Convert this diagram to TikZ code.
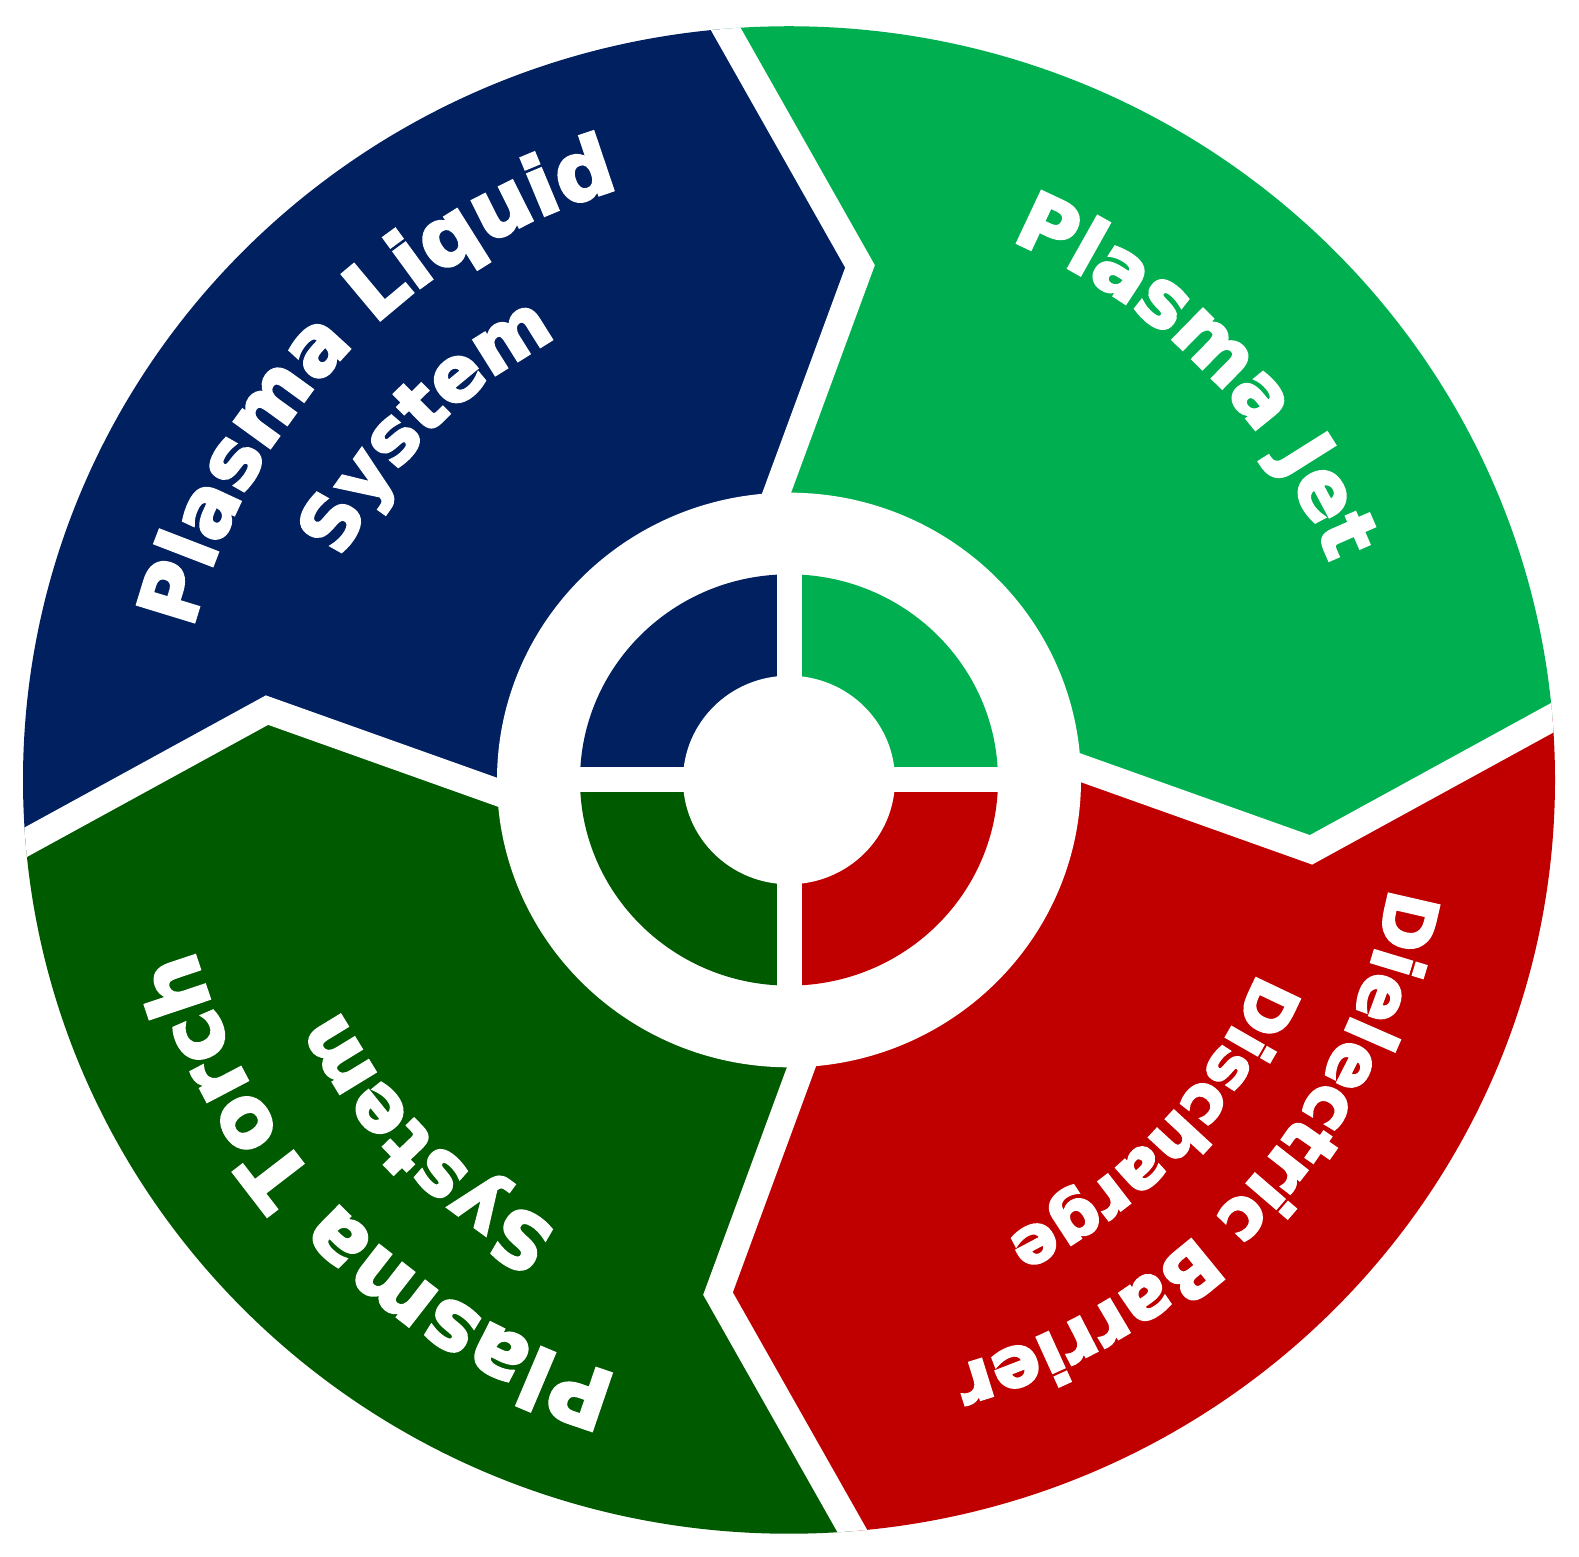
\documentclass[tikz,border=0pt]{standalone}
\usepackage{fontspec}
\setmainfont{DejaVu Sans}
\newfontfamily\lblfam{DejaVu Sans Bold}[FakeBold=3.5]
\usetikzlibrary{decorations.text}
\definecolor{navy}{HTML}{002060}
\definecolor{lgreen}{HTML}{00B050}
\definecolor{dgreen}{HTML}{005A00}
\definecolor{dred}{HTML}{C00000}
\newcommand{\lblfont}[1]{\color{white}\lblfam\fontsize{#1}{#1}\selectfont}
\tikzset{
  gapline/.style={draw=white, line width=0.54cm, line join=miter, miter limit=10},
  crossgap/.style={draw=white, line width=0.5cm},
}
\newcommand{\boundary}[1]{%
  \begin{scope}[rotate=-90*#1]
    \coordinate (e#1) at (-46,200);
    \coordinate (n#1) at (-13,290);
    \coordinate (t#1) at (71,522);
    \coordinate (o#1) at (-57,752);
    \coordinate (x#1) at (-121,867);
  \end{scope}}
% \arclabel{font size}{centre angle}{radius}{text}
\newcommand{\arclabel}[4]{%
  \pgfmathsetmacro{\sa}{#2+60}\pgfmathsetmacro{\ea}{#2-60}%
  \path[decorate, decoration={text along path, text align=center, text={|\lblfont{#1}|#4}}]
    (\sa:#3) arc[start angle=\sa, end angle=\ea, radius=#3];}
\begin{document}
\begin{tikzpicture}[x=0.02cm,y=0.02cm]
\useasboundingbox[fill=white] (0,0) rectangle (1579,1557);
\begin{scope}[shift={(789,777)}, yscale=0.984]
  \coordinate (ctr) at (0,0);
  \boundary{0}\boundary{1}\boundary{2}\boundary{3}
  \begin{scope}
    \clip (ctr) circle (766);
    \fill[lgreen] (ctr) -- (e0) -- (n0) -- (t0) -- (o0) -- (x0) -- (45:1300) -- (x1) -- (o1) -- (t1) -- (n1) -- (e1) -- cycle;
    \fill[dred] (ctr) -- (e1) -- (n1) -- (t1) -- (o1) -- (x1) -- (-45:1300) -- (x2) -- (o2) -- (t2) -- (n2) -- (e2) -- cycle;
    \fill[dgreen] (ctr) -- (e2) -- (n2) -- (t2) -- (o2) -- (x2) -- (-135:1300) -- (x3) -- (o3) -- (t3) -- (n3) -- (e3) -- cycle;
    \fill[navy] (ctr) -- (e3) -- (n3) -- (t3) -- (o3) -- (x3) -- (135:1300) -- (x0) -- (o0) -- (t0) -- (n0) -- (e0) -- cycle;
    \foreach \k in {0,1,2,3}{
      \draw[gapline] (e\k) -- (n\k) -- (t\k) -- (o\k) -- (x\k);
    }
  \end{scope}
  \fill[white] (ctr) circle (292);
  \fill[navy] (ctr) -- (180:209) arc[start angle=180, end angle=90, radius=209] -- cycle;
  \fill[lgreen] (ctr) -- (90:209) arc[start angle=90, end angle=0, radius=209] -- cycle;
  \fill[dred] (ctr) -- (0:209) arc[start angle=0, end angle=-90, radius=209] -- cycle;
  \fill[dgreen] (ctr) -- (-90:209) arc[start angle=-90, end angle=-180, radius=209] -- cycle;
  \draw[crossgap] (-215,0) -- (215,0) (0,-215) -- (0,215);
  \fill[white] (ctr) circle (106);
\end{scope}
\begin{scope}[shift={(789,777)}]
  \arclabel{46.4}{135.9}{615}{Plasma Liquid}
  \arclabel{42.9}{135.65}{499}{System}
  \arclabel{44.7}{44.75}{583}{Plasma Jet}
  \arclabel{40.3}{-42.25}{610}{Dielectric Barrier}
  \arclabel{37.8}{-43.45}{507}{Discharge}
  \arclabel{47.2}{224.95}{619}{Plasma Torch}
  \arclabel{43.2}{224.9}{505}{System}
\end{scope}
\end{tikzpicture}
\end{document}
